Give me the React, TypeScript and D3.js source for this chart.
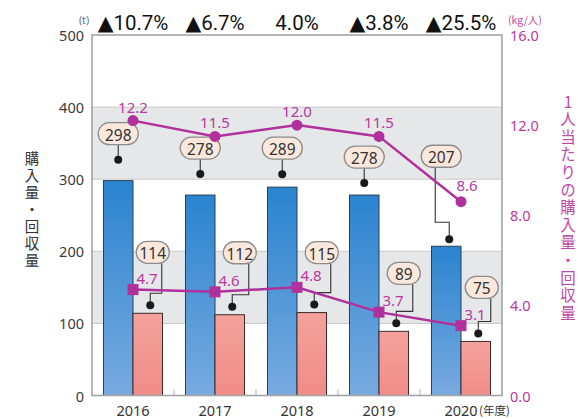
import React from 'react';
import * as d3 from 'd3';

const years = ['2016', '2017', '2018', '2019', '2020'];
const purchase = [298, 278, 289, 278, 207];
const collection = [114, 112, 115, 89, 75];
const purchasePerCapita = [12.2, 11.5, 12.0, 11.5, 8.6];
const collectionPerCapita = [4.7, 4.6, 4.8, 3.7, 3.1];
const changeLabels = ['▲10.7%', '▲6.7%', '4.0%', '▲3.8%', '▲25.5%'];
const leftTicks = [0, 100, 200, 300, 400, 500];
const rightTicks = [0, 4, 8, 12, 16];
const leftTitle = '購入量・回収量';
const rightTitle = '1人当たりの購入量・回収量';

// layout (pixel offsets for callouts)
const blueLift = [47, 47, 39, 38, 90];
const pinkLift = [61, 62, 60, 58, 54];
const pinkShift = [5, 10, 10, 10, 6];

const W = 578;
const H = 419;
const PL = 92, PR = 502, PT = 35, PB = 395.5;
const PURPLE = '#b0309c';
const PURPLE_T = '#b8399f';
const FONT = "'Noto Sans', 'Noto Sans CJK JP', sans-serif";
const CJK = "'Noto Sans CJK JP', 'Noto Sans', sans-serif";

export default function App() {
  const x0 = d3.scaleBand<string>().domain(years).range([PL, PR]).paddingInner(0.28).paddingOuter(0.14);
  const sub = d3.scaleBand<string>().domain(['p', 'c']).range([0, x0.bandwidth()]);
  const yL = d3.scaleLinear().domain([0, 500]).range([PB, PT]);
  const yR = d3.scaleLinear().domain([0, 16]).range([PB, PT]);
  const cx = (y: string) => (x0(y) as number) + x0.bandwidth() / 2;
  const step = x0.step();

  const line1 = d3.line<number>().x((_, i) => cx(years[i])).y((d) => yR(d));
  const bw = sub.bandwidth();

  const vertical: React.CSSProperties = { writingMode: 'vertical-rl' as any, textOrientation: 'upright' as any };

  return (
    <svg width={W} height={H} style={{ position: 'absolute', left: 0, top: 0, background: '#fff' }}>
      <defs>
        <linearGradient id="gBlue" x1="0" y1="0" x2="0" y2="1">
          <stop offset="0" stopColor="#2a84cf" />
          <stop offset="1" stopColor="#78aae0" />
        </linearGradient>
        <linearGradient id="gPink" x1="0" y1="0" x2="0" y2="1">
          <stop offset="0" stopColor="#f5a29c" />
          <stop offset="1" stopColor="#f08c88" />
        </linearGradient>
      </defs>

      {/* gray bands */}
      {[[100, 200], [300, 400]].map(([a, b]) => (
        <rect key={a} x={PL} y={yL(b)} width={PR - PL} height={yL(a) - yL(b)} fill="#e6e7e8" />
      ))}
      {leftTicks.filter((t) => t > 0 && t < 500).map((t) => (
        <line key={t} x1={PL} x2={PR} y1={yL(t)} y2={yL(t)} stroke="#c8c8c8" strokeWidth={1} />
      ))}

      {/* category separators */}
      {years.slice(1).map((y) => (
        <line key={y} x1={cx(y) - step / 2} x2={cx(y) - step / 2} y1={PB} y2={PB - 6} stroke="#b0b0b0" strokeWidth={1} />
      ))}

      {/* bars */}
      {years.map((y, i) => (
        <g key={y}>
          <rect x={(x0(y) as number) + (sub('p') as number)} y={yL(purchase[i])} width={bw} height={PB - yL(purchase[i])}
            fill="url(#gBlue)" stroke="#2c3e55" strokeWidth={1} />
          <rect x={(x0(y) as number) + (sub('c') as number)} y={yL(collection[i])} width={bw} height={PB - yL(collection[i])}
            fill="url(#gPink)" stroke="#3a2a2a" strokeWidth={1} />
        </g>
      ))}

      {/* callouts */}
      {years.map((y, i) => {
        const bx = (x0(y) as number) + (sub('p') as number) + bw / 2;
        const top = yL(purchase[i]);
        const lift = blueLift[i];
        const elbow = lift > 60;
        const bubX = elbow ? bx - 5 : bx;
        const bubY = top - lift;
        const dotX = elbow ? bx + 3 : bx;
        const dotY = elbow ? top - 7 : bubY + 26;
        const path = elbow
          ? `M${bubX - 6},${bubY + 11} V${top - 24} H${dotX} V${dotY}`
          : `M${bubX},${bubY + 11} V${dotY}`;
        const px = (x0(y) as number) + (sub('c') as number) + bw / 2;
        const ptop = yL(collection[i]);
        const pbX = px + pinkShift[i];
        const pbY = ptop - pinkLift[i];
        const pdX = px + 2.5;
        const pdY = ptop - 8;
        const ppath = `M${pbX + 9},${pbY + 11} V${pdY - 12} H${pdX} V${pdY}`;
        return (
          <g key={y}>
            <path d={path} fill="none" stroke="#333" strokeWidth={1.1} />
            <circle cx={dotX} cy={dotY} r={4} fill="#1a1a1a" />
            <path d={ppath} fill="none" stroke="#333" strokeWidth={1.1} />
            <circle cx={pdX} cy={pdY} r={4} fill="#1a1a1a" />
            <rect x={bubX - 20} y={bubY - 11} width={40} height={22} rx={11} fill="#fbe8dc" stroke="#8c8c8c" strokeWidth={1.3} />
            <text x={bubX} y={bubY + 1} textAnchor="middle" dominantBaseline="central" fontFamily={FONT} fontSize={15.5} fill="#333">{purchase[i]}</text>
            <rect x={pbX - 16.5} y={pbY - 11} width={33} height={22} rx={11} fill="#fbe8dc" stroke="#8c8c8c" strokeWidth={1.3} />
            <text x={pbX} y={pbY + 1} textAnchor="middle" dominantBaseline="central" fontFamily={FONT} fontSize={15.5} fill="#333">{collection[i]}</text>
          </g>
        );
      })}

      {/* lines */}
      <path d={line1(purchasePerCapita) || ''} fill="none" stroke={PURPLE} strokeWidth={2.5} />
      <path d={line1(collectionPerCapita) || ''} fill="none" stroke={PURPLE} strokeWidth={2.5} />
      {years.map((y, i) => (
        <g key={y}>
          <circle cx={cx(y)} cy={yR(purchasePerCapita[i])} r={5.5} fill={PURPLE} />
          <rect x={cx(y) - 5.5} y={yR(collectionPerCapita[i]) - 5.5} width={11} height={11} fill={PURPLE} />
          <text x={cx(y) + (i === 4 ? 6 : 0)} y={yR(purchasePerCapita[i]) - (i === 4 ? 17 : 14)} textAnchor="middle" dominantBaseline="central"
            fontFamily={FONT} fontSize={15} fill={PURPLE_T}>{purchasePerCapita[i].toFixed(1)}</text>
          <text x={cx(y) + 14} y={yR(collectionPerCapita[i]) - 12} textAnchor="middle" dominantBaseline="central"
            fontFamily={FONT} fontSize={15} fill={PURPLE_T}>{collectionPerCapita[i].toFixed(1)}</text>
        </g>
      ))}

      {/* frame */}
      <rect x={PL} y={PT} width={PR - PL} height={PB - PT} fill="none" stroke="#a4a4a4" strokeWidth={1.6} />

      {/* left axis */}
      {leftTicks.map((t) => (
        <text key={t} x={84} y={yL(t)} textAnchor="end" dominantBaseline="central" fontFamily={FONT} fontSize={14.5} fill="#3a3a3a">{t}</text>
      ))}
      <text x={84} y={20} textAnchor="middle" dominantBaseline="central" fontFamily={FONT} fontSize={10.5} fill="#5b6b8a">(t)</text>

      {/* right axis */}
      {rightTicks.map((t) => (
        <text key={t} x={510} y={yR(t)} textAnchor="start" dominantBaseline="central" fontFamily={FONT} fontSize={14.5} fill={PURPLE_T}>{t.toFixed(1)}</text>
      ))}
      <text x={508} y={19} textAnchor="start" dominantBaseline="central" fontFamily={CJK} fontSize={10.5} fill="#c04aa8">(kg/人)</text>

      {/* x axis labels */}
      {years.map((y) => (
        <text key={y} x={cx(y)} y={409.5} textAnchor="middle" dominantBaseline="central" fontFamily={FONT} fontSize={14.5} fill="#333">{y}</text>
      ))}
      <text x={cx(years[4]) + 18} y={409.5} textAnchor="start" dominantBaseline="central" fontFamily={CJK} fontSize={11.5} fill="#333">(年度)</text>

      {/* change labels */}
      {years.map((y, i) => (
        <text key={y} x={cx(y)} y={23} textAnchor="middle" dominantBaseline="central" fontFamily="Roboto, 'DejaVu Sans', sans-serif" fontSize={20.5} fill="#111">
          {changeLabels[i]}
        </text>
      ))}

      {/* titles (vertical) */}
      <text x={32} y={151} style={vertical} fontFamily={CJK} fontSize={14.5} letterSpacing={2.5} fill="#333">{leftTitle}</text>
      <text x={568} y={94} style={vertical} fontFamily={CJK} fontSize={15.5} letterSpacing={2.1} fill="#c04aa8">{rightTitle}</text>
    </svg>
  );
}
